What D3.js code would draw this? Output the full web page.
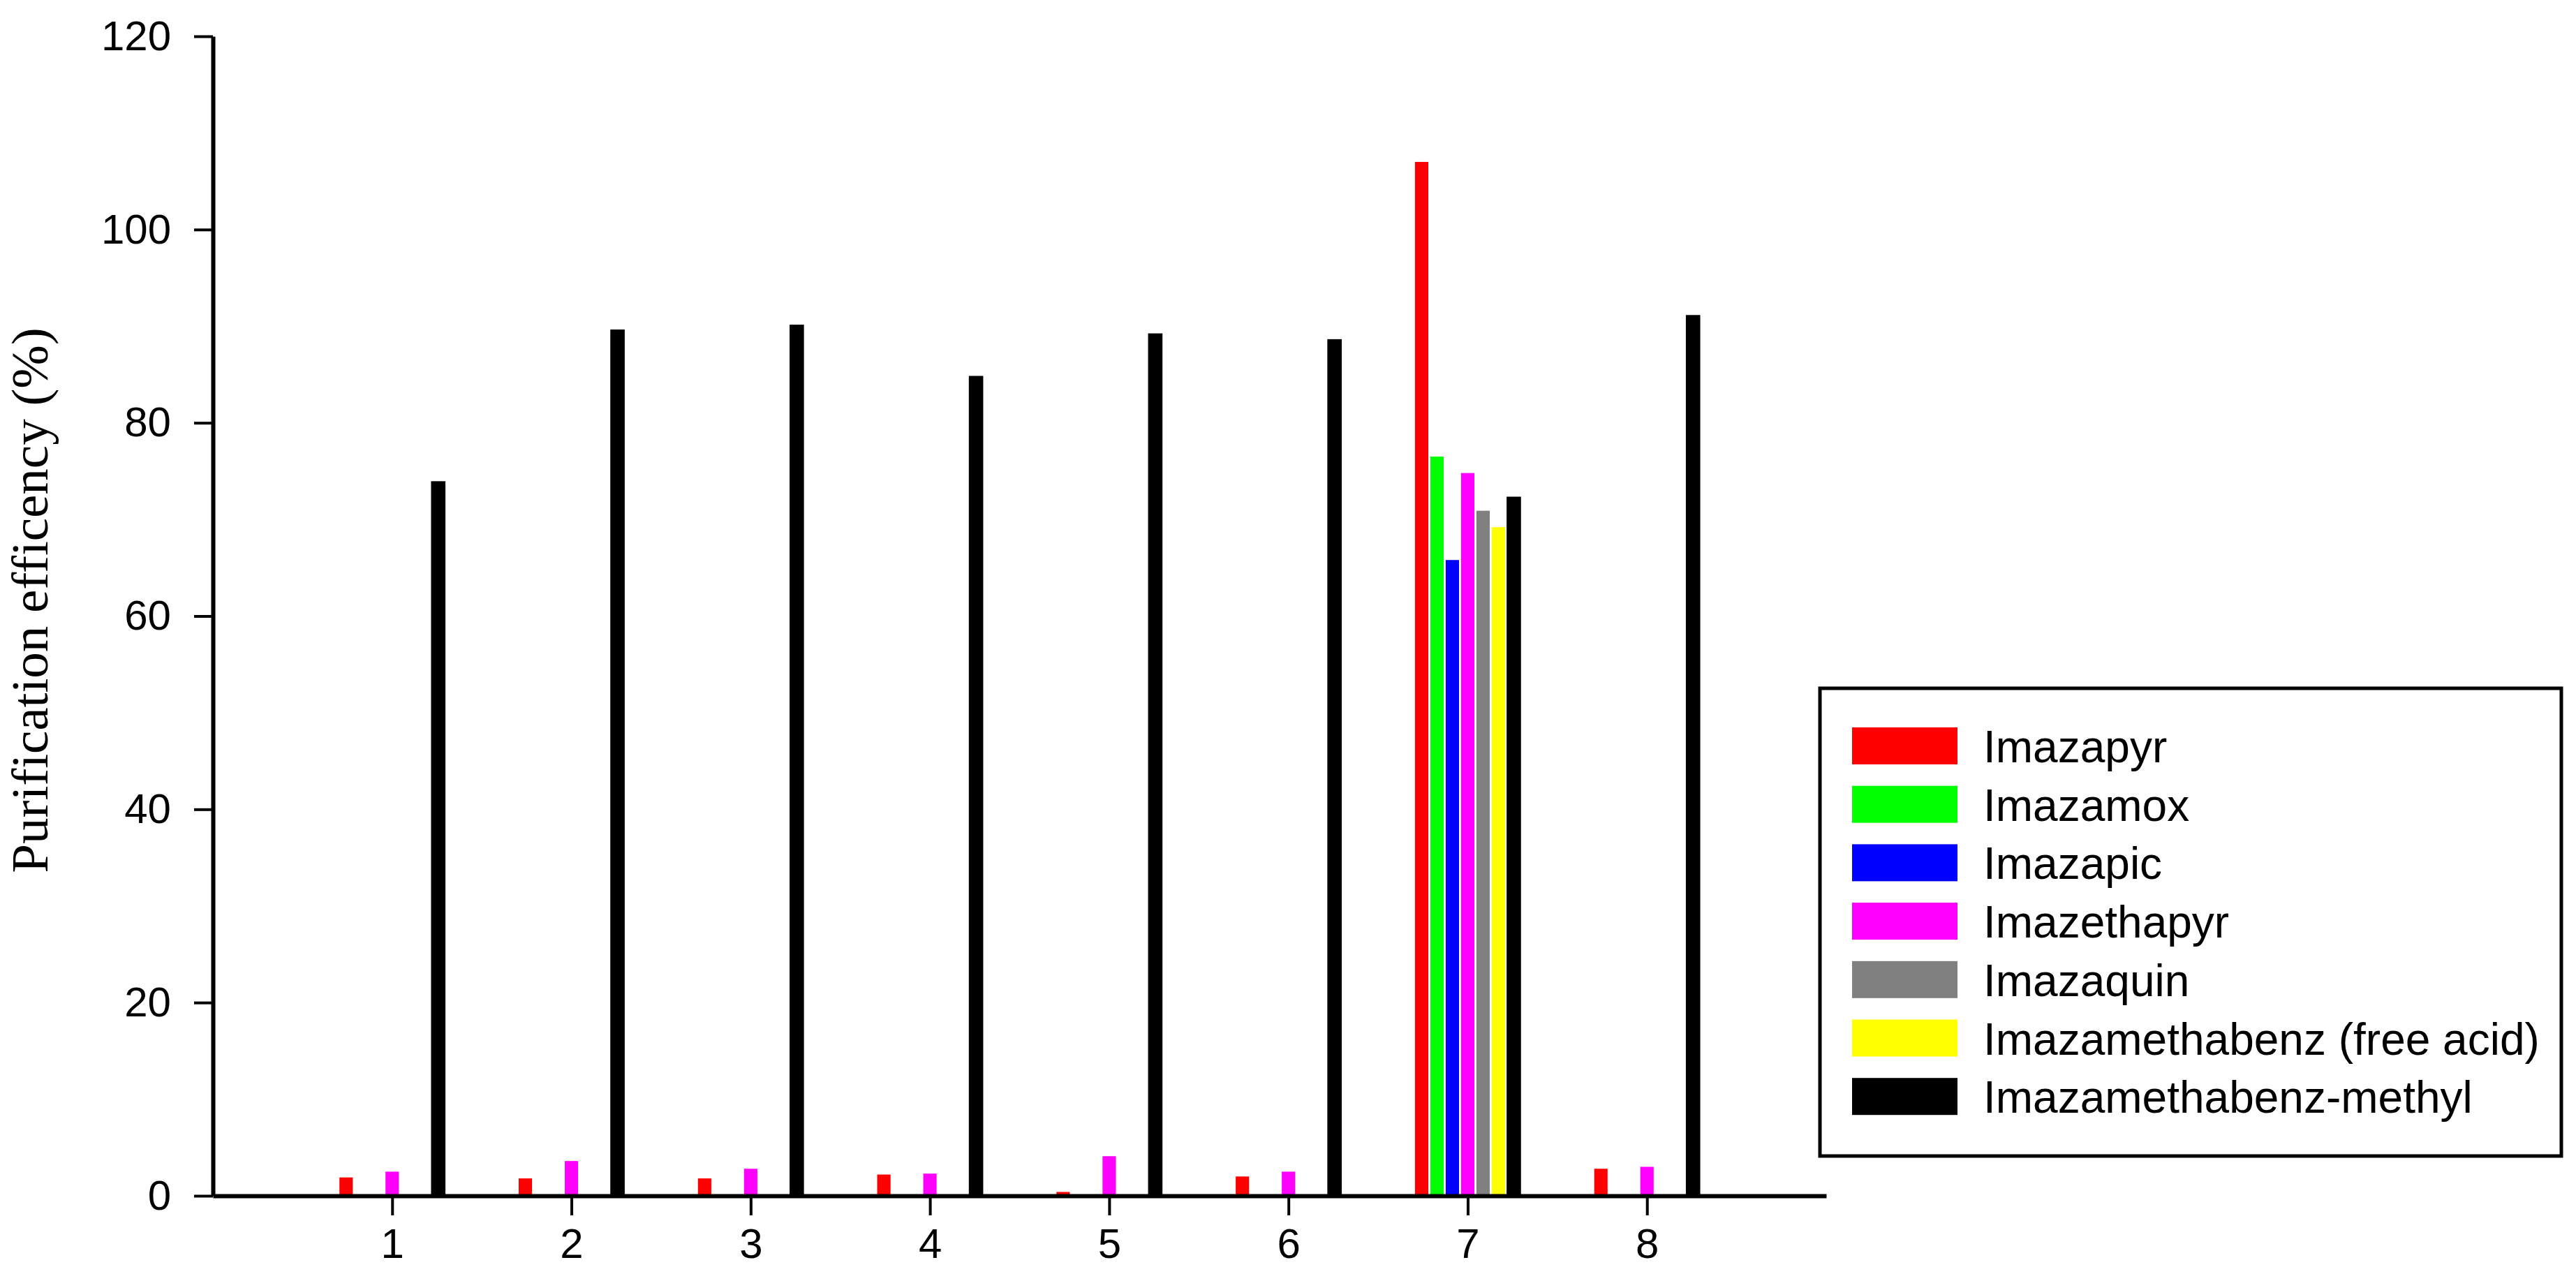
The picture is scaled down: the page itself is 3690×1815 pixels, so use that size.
<!DOCTYPE html>
<html><head><meta charset="utf-8">
<script src="https://cdn.jsdelivr.net/npm/d3@7"></script>
<style>body{margin:0;background:#fff;} svg{display:block;}</style>
</head><body>
<svg id="chart" width="3690" height="1815"></svg>
<script>
const categories = ["1","2","3","4","5","6","7","8"];
const seriesNames = ["Imazapyr","Imazamox","Imazapic","Imazethapyr","Imazaquin","Imazamethabenz (free acid)","Imazamethabenz-methyl"];
const seriesColors = ["#ff0000","#00ff00","#0000ff","#ff00ff","#808080","#ffff00","#000000"];
const imazapyr      = [1.9, 1.8, 1.8, 2.2, 0.4, 2.0, 107.0, 2.8];
const imazamox      = [0, 0, 0, 0, 0, 0, 76.5, 0];
const imazapic      = [0, 0, 0, 0, 0, 0, 65.8, 0];
const imazethapyr   = [2.5, 3.6, 2.8, 2.3, 4.1, 2.5, 74.8, 3.0];
const imazaquin     = [0, 0, 0, 0, 0, 0, 70.9, 0];
const imazamethabenzAcid  = [0, 0, 0, 0, 0, 0, 69.2, 0];
const imazamethabenzMethyl = [73.9, 89.6, 90.1, 84.8, 89.2, 88.6, 72.3, 91.1];
const yTicks = [0, 20, 40, 60, 80, 100, 120];
const yLabel = "Purification efficency (%)";

const seriesValues = [imazapyr, imazamox, imazapic, imazethapyr, imazaquin, imazamethabenzAcid, imazamethabenzMethyl];

const svg = d3.select("#chart");
const x0 = 305, x1 = 2616, yTop = 52, yBot = 1713;

const x = d3.scaleLinear().domain([0, 9]).range([x0, x1]);
const y = d3.scaleLinear().domain([0, 120]).range([yBot, yTop]);
const inner = d3.scaleBand().domain(seriesNames).range([-77, 77]).paddingInner(0.13).paddingOuter(0.065);

// bars
const data = [];
seriesNames.forEach((s, si) => {
  categories.forEach((c, ci) => {
    const v = seriesValues[si][ci];
    if (v > 0) data.push({s, si, c, ci, v});
  });
});
svg.append("g").selectAll("rect").data(data).join("rect")
  .attr("x", d => x(d.ci + 1) + inner(d.s))
  .attr("width", inner.bandwidth())
  .attr("y", d => y(d.v))
  .attr("height", d => y(0) - y(d.v))
  .attr("fill", d => seriesColors[d.si])
  .attr("stroke", d => d.si === 6 ? "#000" : "none")
  .attr("stroke-width", 1.5);

// y axis
const yAxis = svg.append("g").attr("transform", `translate(${x0},0)`)
  .call(d3.axisLeft(y).tickValues(yTicks).tickSize(27).tickSizeOuter(0).tickPadding(33));
yAxis.select(".domain").attr("stroke", "#000").attr("stroke-width", 6);
yAxis.selectAll(".tick line").attr("stroke", "#000").attr("stroke-width", 4);
yAxis.selectAll(".tick text").attr("font-family", "Liberation Sans, Arial, sans-serif").attr("font-size", 60).attr("fill", "#000");

// x axis
const xAxis = svg.append("g").attr("transform", `translate(0,${yBot})`)
  .call(d3.axisBottom(x).tickValues(categories.map((c, i) => i + 1)).tickFormat((d, i) => categories[i]).tickSize(28).tickSizeOuter(0).tickPadding(18));
xAxis.select(".domain").attr("stroke", "#000").attr("stroke-width", 6);
xAxis.selectAll(".tick line").attr("stroke", "#000").attr("stroke-width", 4);
xAxis.selectAll(".tick text").attr("font-family", "Liberation Sans, Arial, sans-serif").attr("font-size", 60).attr("fill", "#000");

// y label
svg.append("text")
  .attr("transform", `translate(68,860) rotate(-90)`)
  .attr("text-anchor", "middle")
  .attr("font-family", "Liberation Serif, Times New Roman, serif")
  .attr("font-size", 75)
  .attr("fill", "#000")
  .text(yLabel);

// legend
const lg = svg.append("g");
lg.append("rect").attr("x", 2607).attr("y", 986).attr("width", 1062).attr("height", 670)
  .attr("fill", "#fff").attr("stroke", "#000").attr("stroke-width", 5);
const rows = lg.selectAll("g.row").data(seriesNames).join("g").attr("class", "row")
  .attr("transform", (d, i) => `translate(2653,${1042 + i * 83.7})`);
rows.append("rect").attr("width", 151).attr("height", 53).attr("fill", (d, i) => seriesColors[i]);
rows.append("text").attr("x", 188).attr("y", 50)
  .attr("font-family", "Liberation Sans, Arial, sans-serif").attr("font-size", 64)
  .attr("fill", "#000").text(d => d);
</script>
</body></html>
